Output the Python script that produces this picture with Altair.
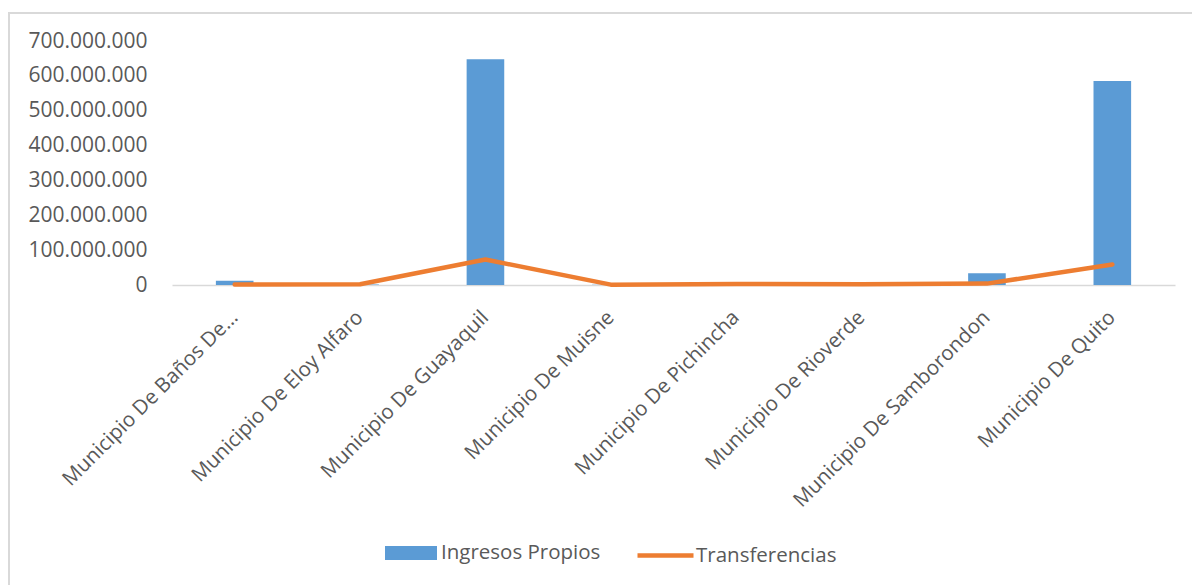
import altair as alt
import pandas as pd

municipios = [
    "Municipio De Baños De…",
    "Municipio De Eloy Alfaro",
    "Municipio De Guayaquil",
    "Municipio De Muisne",
    "Municipio De Pichincha",
    "Municipio De Rioverde",
    "Municipio De Samborondon",
    "Municipio De Quito",
]
ingresos_propios = [12000000, 1500000, 648000000, 500000, 1000000, 1000000, 34000000, 585000000]
transferencias = [1500000, 2000000, 73000000, 1000000, 3000000, 2000000, 4000000, 59000000]
y_ticks = [0, 100000000, 200000000, 300000000, 400000000, 500000000, 600000000, 700000000]

df = pd.DataFrame({
    "municipio": municipios,
    "ingresos": ingresos_propios,
    "transferencias": transferencias,
    "s_bar": "Ingresos Propios",
    "s_line": "Transferencias",
})

FONT = "Open Sans"
GREY = "#595959"

x_axis = alt.Axis(
    labelAngle=-45,
    labelAlign="right",
    labelBaseline="middle",
    labelFontSize=20.5,
    labelFont=FONT,
    labelColor=GREY,
    labelLimit=400,
    labelPadding=29,
    ticks=False,
    domainColor="#d9d9d9",
    domainWidth=1.5,
    grid=False,
)
x_scale = alt.Scale(paddingInner=0.7, paddingOuter=0.35)

y_scale = alt.Scale(domain=[0, 700000000], nice=False)
y_axis = alt.Axis(
    values=y_ticks,
    labelExpr="replace(replace(format(datum.value, ','), ',', '.'), ',', '.')",
    labelFontSize=21,
    labelFont=FONT,
    labelColor=GREY,
    labelPadding=25,
    labelOverlap=False,
    ticks=False,
    domain=False,
    grid=False,
    title=None,
)

border = alt.Chart(df).mark_rect(fill=None, stroke="#d9d9d9", strokeWidth=1.5).encode(
    x=alt.value(-163), x2=alt.value(1040), y=alt.value(-28), y2=alt.value(600)
)

bars = alt.Chart(df).mark_bar(color="#5b9bd5").encode(
    x=alt.X("municipio:N", sort=municipios, title=None, scale=x_scale, axis=x_axis),
    y=alt.Y("ingresos:Q", scale=y_scale, axis=y_axis),
    color=alt.Color(
        "s_bar:N",
        scale=alt.Scale(domain=["Ingresos Propios"], range=["#5b9bd5"]),
        legend=alt.Legend(
            title=None,
            orient="none",
            legendX=213,
            legendY=486,
            symbolType="M-1,-0.27H1V0.27H-1Z",
            symbolSize=2704,
            symbolStrokeWidth=0,
            symbolOpacity=1,
            labelFontSize=20.5,
            labelFont=FONT,
            labelColor=GREY,
            labelOffset=4,
        ),
    ),
)

line = alt.Chart(df).mark_line(strokeWidth=4.5, strokeCap="round", strokeJoin="round").encode(
    x=alt.X("municipio:N", sort=municipios, title=None, scale=x_scale, axis=x_axis),
    y=alt.Y("transferencias:Q", scale=y_scale, axis=y_axis),
    stroke=alt.Stroke(
        "s_line:N",
        scale=alt.Scale(domain=["Transferencias"], range=["#ed7d31"]),
        legend=alt.Legend(
            title=None,
            orient="none",
            legendX=463,
            legendY=484,
            symbolType="stroke",
            symbolSize=3136,
            symbolStrokeWidth=4.5,
            labelFontSize=20.5,
            labelFont=FONT,
            labelColor=GREY,
            labelOffset=0,
        ),
    ),
)

chart = (
    alt.layer(border, bars, line)
    .properties(
        width=1003,
        height=244,
        autosize=alt.AutoSizeParams(type="none"),
        padding={"left": 172, "top": 41, "right": 17, "bottom": 300},
        background="white",
    )
    .configure_view(stroke=None)
)

chart.save("out.html", embed_options={"renderer": "svg", "actions": False})
